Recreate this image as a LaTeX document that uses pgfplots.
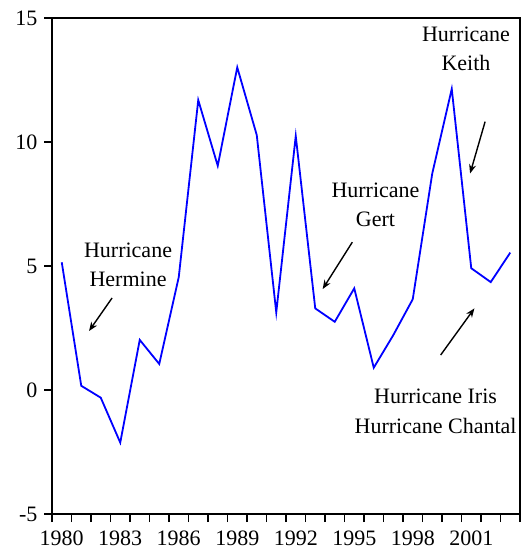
\documentclass[border=0pt]{standalone}
\usepackage{fontspec}
\setmainfont{Liberation Serif}
\usepackage{pgfplots}
\pgfplotsset{compat=1.18}
\usetikzlibrary{arrows.meta}

\begin{document}
\begin{tikzpicture}
\begin{axis}[
    scale only axis,
    width=468pt, height=496pt,
    xmin=1979.5, xmax=2003.5,
    ymin=-5, ymax=15,
    % ticks between the years, labels centred on the years
    xtick={1979.5,1980.5,...,2003.5},
    xticklabels={1980,,,1983,,,1986,,,1989,,,1992,,,1995,,,1998,,,2001,,,},
    xticklabel style={xshift=9.75pt, yshift=-5pt},
    ytick={-5,0,5,10,15},
    yticklabels={-5,0,5,10,15},
    yticklabel style={xshift=-3pt},
    xtick pos=left, ytick pos=left,
    xtick align=outside, ytick align=outside,
    major tick length=8pt,
    major tick style={black, line width=1.6pt},
    axis line style={line width=1.9pt},
    every tick label/.append style={font=\fontsize{22}{26}\selectfont},
    clip=false,
]
\addplot[color=blue, line width=1.8pt] coordinates {
    (1980,5.15) (1981,0.17) (1982,-0.31) (1983,-2.12) (1984,2.02)
    (1985,1.05) (1986,4.55) (1987,11.69) (1988,9.04) (1989,13.01)
    (1990,10.28) (1991,3.13) (1992,10.24) (1993,3.29) (1994,2.75)
    (1995,4.10) (1996,0.90) (1997,2.21) (1998,3.66) (1999,8.73)
    (2000,12.14) (2001,4.91) (2002,4.35) (2003,5.54)
};

\tikzset{lbl/.style={font=\fontsize{22}{29.5}\selectfont, align=center}}
\node[lbl] at (1983.4,5.04) {Hurricane\\Hermine};
\node[lbl] at (1996.09,7.46) {Hurricane\\Gert};
\node[lbl] at (2000.73,13.75) {Hurricane\\Keith};
\node[lbl] at (1999.17,-0.86) {Hurricane Iris\\Hurricane Chantal};

\tikzset{arr/.style={-{Stealth[length=9pt,width=7pt]}, line width=1.4pt, black}}
\draw[arr] (1982.58,3.71) -- (1981.40,2.38);
\draw[arr] (1994.90,5.96) -- (1993.38,4.07);
\draw[arr] (2001.71,10.82) -- (2000.94,8.73);
\draw[arr] (1999.43,1.41) -- (2001.16,3.29);
\end{axis}
\pgfresetboundingbox
\path (current axis.south west) ++(-52pt,-42pt) rectangle ([shift={(5pt,18pt)}]current axis.north east);
\end{tikzpicture}
\end{document}
